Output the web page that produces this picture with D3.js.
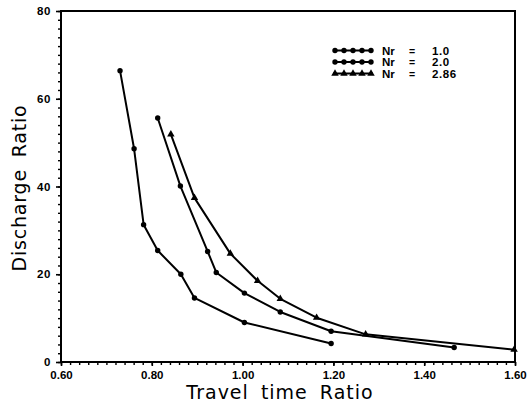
<!DOCTYPE html>
<html>
<head>
<meta charset="utf-8">
<script src="https://cdn.jsdelivr.net/npm/d3@7"></script>
<style>
  html, body { margin: 0; padding: 0; background: #fff; }
  svg { display: block; }
</style>
</head>
<body>
<svg id="chart" width="532" height="406"></svg>
<script>
// Travel time ratio vs discharge ratio for three Nr values
const seriesLabels = ["1.0", "2.0", "2.86"];
const seriesShapes = ["circle", "circle", "triangle"];

const travel1 = [0.730, 0.761, 0.782, 0.813, 0.864, 0.894, 1.004, 1.195];
const discharge1 = [66.4, 48.6, 31.3, 25.4, 20.0, 14.6, 9.0, 4.2];

const travel2 = [0.813, 0.863, 0.923, 0.942, 1.004, 1.083, 1.195, 1.466];
const discharge2 = [55.6, 40.1, 25.2, 20.4, 15.7, 11.4, 7.0, 3.3];

const travel3 = [0.842, 0.894, 0.973, 1.033, 1.083, 1.163, 1.271, 1.598];
const discharge3 = [51.9, 37.4, 24.7, 18.5, 14.4, 10.1, 6.3, 2.8];

const xTickValues = [0.6, 0.8, 1.0, 1.2, 1.4, 1.6];
const xTickLabels = ["0.60", "0.80", "1.00", "1.20", "1.40", "1.60"];
const yTickValues = [0, 20, 40, 60, 80];

const svg = d3.select("#chart");
const margin = { left: 61, right: 17, top: 11, bottom: 44 };
const W = 532, H = 406;

const x = d3.scaleLinear().domain([0.6, 1.6]).range([margin.left, W - margin.right]);
const y = d3.scaleLinear().domain([0, 80]).range([H - margin.bottom, margin.top]);

const tickFont = "'Liberation Sans', Arial, sans-serif";

// frame
svg.append("rect")
  .attr("x", x(0.6)).attr("y", y(80))
  .attr("width", x(1.6) - x(0.6)).attr("height", y(0) - y(80))
  .attr("fill", "none").attr("stroke", "#000").attr("stroke-width", 2);

// minor ticks
const xMinor = d3.range(0.6, 1.6001, 0.02);
svg.append("g")
  .attr("transform", `translate(0,${y(0)})`)
  .call(d3.axisBottom(x).tickValues(xMinor).tickSize(3).tickFormat(""))
  .call(g => g.select(".domain").remove())
  .selectAll("line").attr("stroke-width", 1.4);

const yMinor = d3.range(0, 80.001, 2);
svg.append("g")
  .attr("transform", `translate(${x(0.6)},0)`)
  .call(d3.axisLeft(y).tickValues(yMinor).tickSize(3).tickFormat(""))
  .call(g => g.select(".domain").remove())
  .selectAll("line").attr("stroke-width", 1.4);

// major ticks and labels
const xAxis = svg.append("g")
  .attr("transform", `translate(0,${y(0)})`)
  .call(d3.axisBottom(x).tickValues(xTickValues).tickSize(4).tickPadding(5)
    .tickFormat((d, i) => xTickLabels[i]));
xAxis.select(".domain").remove();
xAxis.selectAll("line").attr("stroke-width", 1.6);
xAxis.selectAll("text")
  .attr("font-family", tickFont).attr("font-weight", "bold")
  .attr("font-size", 11.5).attr("fill", "#000");

const yAxis = svg.append("g")
  .attr("transform", `translate(${x(0.6)},0)`)
  .call(d3.axisLeft(y).tickValues(yTickValues).tickSize(5).tickPadding(5)
    .tickFormat(d3.format("d")));
yAxis.select(".domain").remove();
yAxis.selectAll("line").attr("stroke-width", 1.6);
yAxis.selectAll("text")
  .attr("font-family", tickFont).attr("font-weight", "bold")
  .attr("font-size", 11.5).attr("letter-spacing", 0.6).attr("fill", "#000");

// axis titles
const titleFont = "'DejaVu Sans', sans-serif";
svg.append("text")
  .attr("x", 280).attr("y", 399)
  .attr("text-anchor", "middle")
  .attr("font-family", titleFont).attr("font-size", 19)
  .attr("letter-spacing", 1).attr("word-spacing", 5)
  .text("Travel time Ratio");

svg.append("text")
  .attr("transform", `translate(26,188) rotate(-90)`)
  .attr("text-anchor", "middle")
  .attr("font-family", titleFont).attr("font-size", 19)
  .attr("letter-spacing", 0.8).attr("word-spacing", 5)
  .text("Discharge Ratio");

// series
const seriesData = [
  d3.zip(travel1, discharge1),
  d3.zip(travel2, discharge2),
  d3.zip(travel3, discharge3)
];

const line = d3.line().x(d => x(d[0])).y(d => y(d[1]));
const triangle = d3.symbol().type(d3.symbolTriangle).size(24);

function drawMarkers(g, pts, shape) {
  if (shape === "circle") {
    g.selectAll("circle").data(pts).join("circle")
      .attr("cx", d => d[0]).attr("cy", d => d[1])
      .attr("r", 2.7).attr("fill", "#000");
  } else {
    g.selectAll("path.mk").data(pts).join("path")
      .attr("class", "mk")
      .attr("transform", d => `translate(${d[0]},${d[1]})`)
      .attr("d", triangle).attr("fill", "#000");
  }
}

seriesData.forEach((data, i) => {
  const g = svg.append("g");
  g.append("path").datum(data)
    .attr("d", line)
    .attr("fill", "none").attr("stroke", "#000")
    .attr("stroke-width", 2).attr("stroke-linejoin", "round");
  drawMarkers(g, data.map(d => [x(d[0]), y(d[1])]), seriesShapes[i]);
});

// legend
const legend = svg.append("g")
  .attr("font-family", tickFont).attr("font-weight", "bold")
  .attr("font-size", 10.5);
seriesLabels.forEach((val, i) => {
  const ly = 50.5 + i * 11.5;
  const lg = legend.append("g");
  lg.append("line")
    .attr("x1", 333).attr("x2", 373).attr("y1", ly).attr("y2", ly)
    .attr("stroke", "#000").attr("stroke-width", 2);
  const pts = d3.range(5).map(k => [335 + k * 9, ly]);
  drawMarkers(lg, pts, seriesShapes[i]);
  lg.append("text").attr("x", 382).attr("y", ly + 4).attr("font-size", 11.5).text("Nr");
  lg.append("text").attr("x", 409).attr("y", ly + 4).text("=");
  lg.append("text").attr("x", 432).attr("y", ly + 4).attr("font-size", 11.5)
    .attr("letter-spacing", 0.6).text(val);
});
</script>
</body>
</html>
